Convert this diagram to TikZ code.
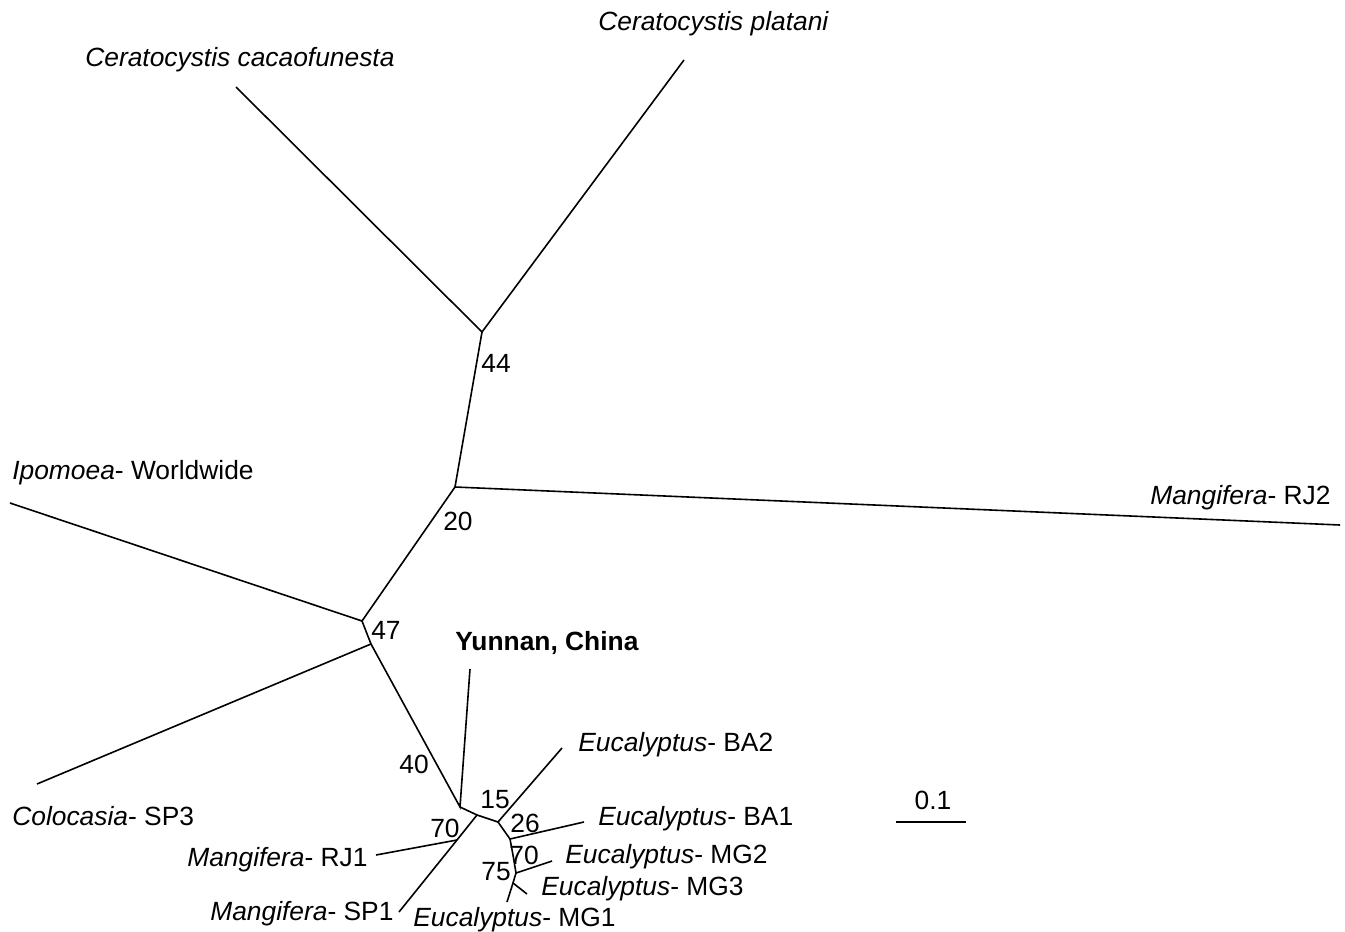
\documentclass[tikz,border=0pt]{standalone}
\usepackage{fontspec}
\setmainfont{Liberation Sans}
\usepackage{tikz}
\usetikzlibrary{positioning}

\begin{document}
\begin{tikzpicture}[x=0.2mm, y=-0.2mm,
  branch/.style={line width=0.32mm, black},
  taxon/.style={font=\fontsize{15}{18}\selectfont, inner sep=0pt, anchor=base},
  boot/.style={font=\fontsize{15}{18}\selectfont, inner sep=0pt}]
  \useasboundingbox (0,0) rectangle (1345,932);
  % internal nodes
  \coordinate (n44) at (482,332);
  \coordinate (n20) at (455,487);
  \coordinate (n47) at (362,621);
  \coordinate (nc)  at (371,644);
  \coordinate (n40) at (460,807);
  \coordinate (nm)  at (477,815);
  \coordinate (n70a) at (457,840);
  \coordinate (n15) at (498,822);
  \coordinate (n26) at (510,839);
  \coordinate (nk)  at (513,855);
  \coordinate (n70) at (516,873);
  \coordinate (n75) at (513,883);
  % tips
  \coordinate (cacao) at (236,87);
  \coordinate (plat)  at (684,60);
  \coordinate (rj2)   at (1340,525);
  \coordinate (ipo)   at (10,503);
  \coordinate (colo)  at (37,784);
  \coordinate (yun)   at (470,669);
  \coordinate (rj1)   at (376,855);
  \coordinate (sp1)   at (399,912);
  \coordinate (ba2)   at (562,748);
  \coordinate (ba1)   at (584,822);
  \coordinate (mg2)   at (552,861);
  \coordinate (mg3)   at (527,894);
  \coordinate (mg1)   at (507,902);
  \coordinate (sa) at (896,822);
  \coordinate (sb) at (966,822);
  % branches
  \draw[branch] (cacao) -- (n44) -- (plat);
  \draw[branch] (n44) -- (n20) -- (rj2);
  \draw[branch] (n20) -- (n47) -- (ipo);
  \draw[branch] (n47) -- (nc) -- (colo);
  \draw[branch] (nc) -- (n40) -- (yun);
  \draw[branch] (n40) -- (nm) -- (n15);
  \draw[branch] (nm) -- (n70a) -- (sp1);
  \draw[branch] (n70a) -- (rj1);
  \draw[branch] (n15) -- (ba2);
  \draw[branch] (n15) -- (n26) -- (ba1);
  \draw[branch] (n26) -- (nk) -- (n70) -- (mg2);
  \draw[branch] (n70) -- (n75) -- (mg3);
  \draw[branch] (n75) -- (mg1);
  \draw[branch] (sa) -- (sb);
  % taxa
  \node[taxon, anchor=base west] (lcacao) at (85,66)   {\textit{Ceratocystis cacaofunesta}};
  \node[taxon, anchor=base west] (lplat)  at (598,30)  {\textit{Ceratocystis platani}};
  \node[taxon, anchor=base west] (lrj2)   at (1150,504) {\textit{Mangifera}- RJ2};
  \node[taxon, anchor=base west] (lipo)   at (12,479)  {\textit{Ipomoea}- Worldwide};
  \node[taxon, anchor=base west] (lcolo)  at (12,825)  {\textit{Colocasia}- SP3};
  \node[taxon, anchor=base west] (lyun)   at (455,650) {\textbf{Yunnan, China}};
  \node[taxon, anchor=base west] (lba2)   at (578,751) {\textit{Eucalyptus}- BA2};
  \node[taxon, anchor=base west] (lba1)   at (598,825) {\textit{Eucalyptus}- BA1};
  \node[taxon, anchor=base west] (lmg2)   at (565,863) {\textit{Eucalyptus}- MG2};
  \node[taxon, anchor=base west] (lmg3)   at (541,895) {\textit{Eucalyptus}- MG3};
  \node[taxon, anchor=base west] (lmg1)   at (413,926) {\textit{Eucalyptus}- MG1};
  \node[taxon, anchor=base west] (lrj1)   at (187,866) {\textit{Mangifera}- RJ1};
  \node[taxon, anchor=base west] (lsp1)   at (210,920) {\textit{Mangifera}- SP1};
  % support values
  \node[boot] (b44) at (496,363) {44};
  \node[boot] (b20) at (458,521) {20};
  \node[boot] (b47) at (386,630) {47};
  \node[boot] (b40) at (414,764) {40};
  \node[boot] (b70a) at (445,828) {70};
  \node[boot] (b15) at (495,800) {15};
  \node[boot] (b26) at (525,823) {26};
  \node[boot] (b70) at (524,855) {70};
  \node[boot] (b75) at (496,872) {75};
  \node[boot] (scl) at (933,800) {0.1};
\end{tikzpicture}
\end{document}
